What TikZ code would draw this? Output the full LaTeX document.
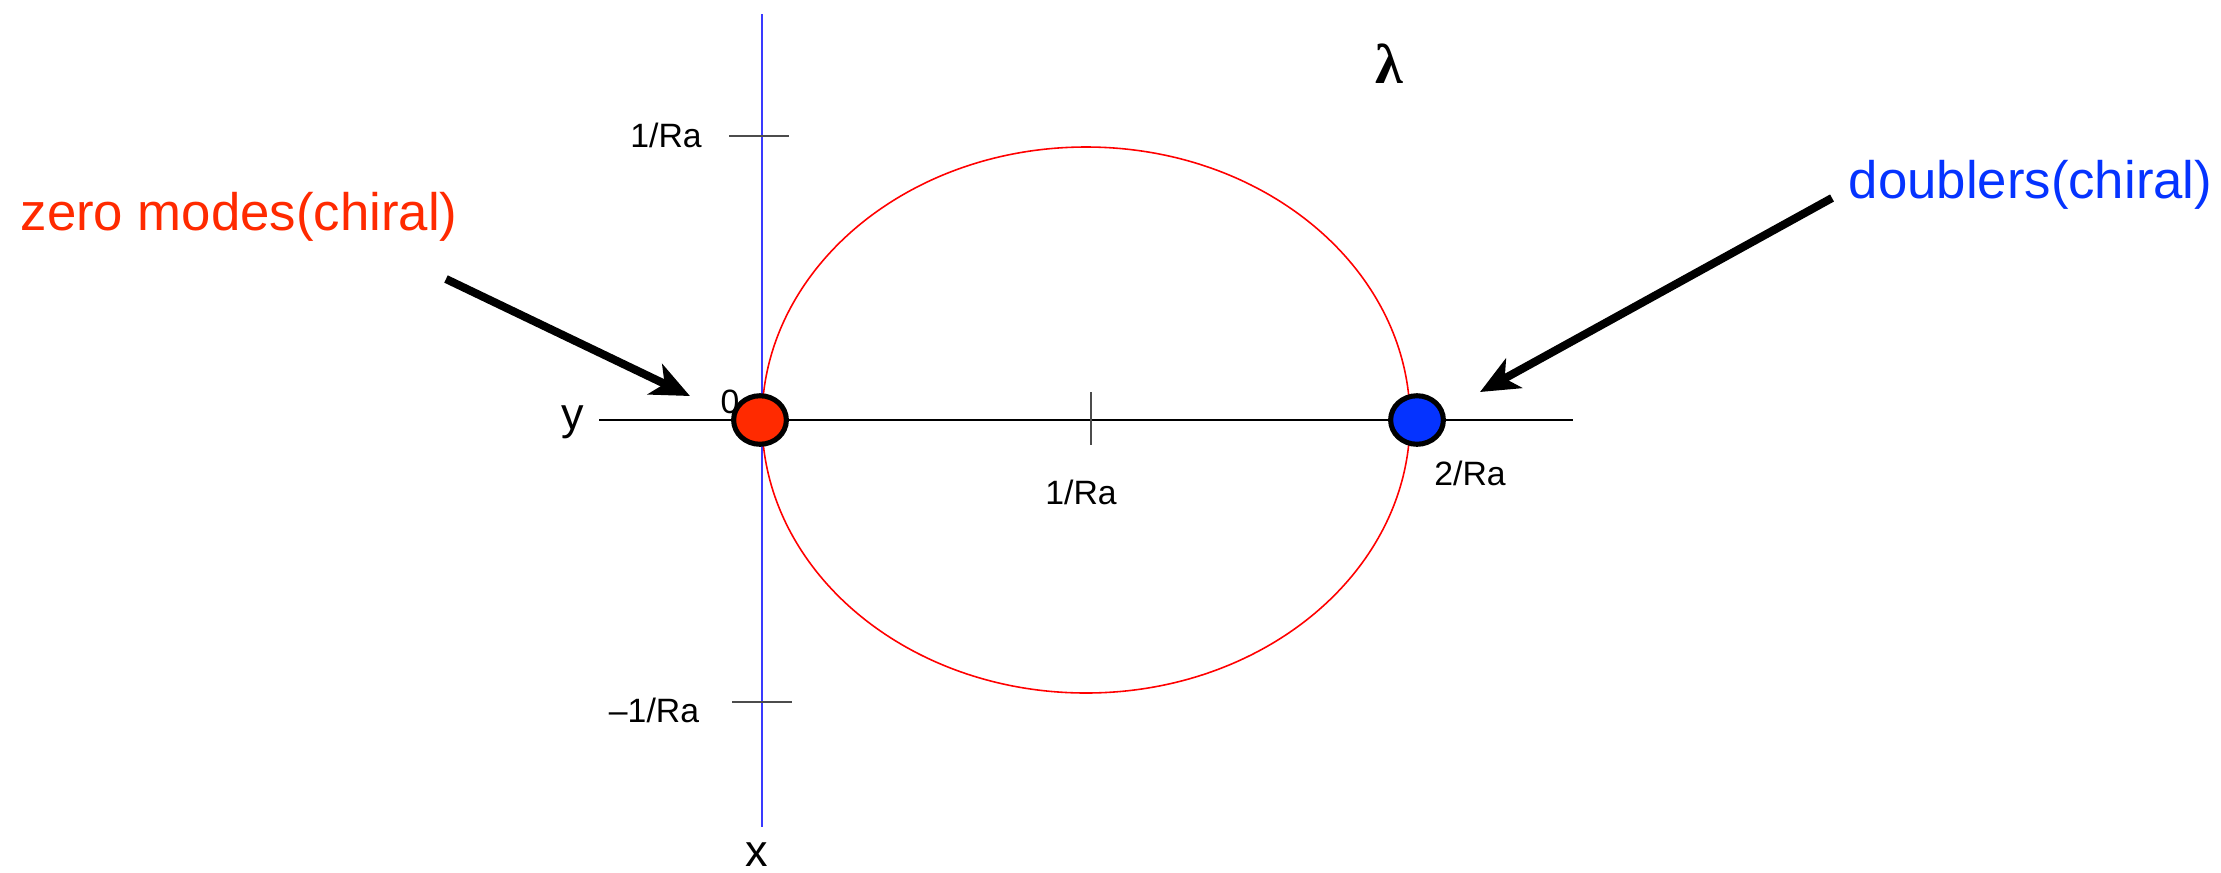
\documentclass[tikz,border=0pt]{standalone}
\usepackage{fontspec}
\setmainfont{Liberation Sans}
\newfontfamily\seriffont{Liberation Serif}
\usetikzlibrary{arrows.meta,shapes.geometric}
\definecolor{zred}{HTML}{FF2A00}
\definecolor{dblue}{HTML}{0533FF}
\definecolor{axblue}{HTML}{3A3AFF}
\tikzset{
  axis/.style={line width=0.45pt, black},
  tick/.style={line width=0.4pt, black!70},
  lbl/.style={inner sep=0pt, font=\fontsize{9.6pt}{11pt}\selectfont},
  axlbl/.style={inner sep=0pt, font=\fontsize{12.8pt}{15pt}\selectfont},
  biglbl/.style={inner sep=0pt, font=\fontsize{15pt}{17pt}\selectfont},
  dot/.style={ellipse, draw=black, line width=1.45pt, minimum width=15pt, minimum height=13.8pt, inner sep=0pt},
  bigarrow/.style={line width=2.3pt, -{Stealth[length=11pt, width=9.5pt, inset=3pt]}},
}
\begin{document}
\begin{tikzpicture}[x=0.01cm, y=-0.01cm]
\useasboundingbox (0,0) rectangle (2221,872);
% axes
\draw[axis] (599,420) -- (1573,420);
\draw[line width=0.6pt, axblue] (762,14) -- (762,827);
% ticks
\draw[tick] (1091,392) -- (1091,445);
\draw[tick] (729,136) -- (789,136);
\draw[tick] (732,702) -- (792,702);
% ellipse
\draw[line width=0.45pt, red] (1086,420) ellipse [x radius=324, y radius=273];
% dots
\node[dot, fill=zred] (zero) at (760,420) {};
\node[dot, fill=dblue] (dbl) at (1417,420) {};
% labels
\node[lbl] (one) at (666,135) {1/Ra};
\node[lbl] (mone) at (654,710) {\textendash1/Ra};
\node[lbl] (zl) at (730,402) {0};
\node[lbl] (onex) at (1081,492) {1/Ra};
\node[lbl] (two) at (1470,473) {2/Ra};
\node[axlbl] (xl) at (757,855) {x};
\node[axlbl] (yl) at (573,422) {y};
\node[inner sep=0pt, font=\seriffont\bfseries\fontsize{16pt}{19pt}\selectfont] (lam) at (1389,64) {λ};
\node[biglbl, text=zred, anchor=west] (zm) at (20,217) {zero modes(chiral)};
\node[biglbl, text=dblue, anchor=west] (db) at (1848,185) {doublers(chiral)};
% arrows
\coordinate (a1s) at (446,279);
\coordinate (a1e) at (690,396);
\coordinate (a2s) at (1832,198);
\coordinate (a2e) at (1480,392);
\draw[bigarrow] (a1s) -- (a1e);
\draw[bigarrow] (a2s) -- (a2e);
\end{tikzpicture}
\end{document}
